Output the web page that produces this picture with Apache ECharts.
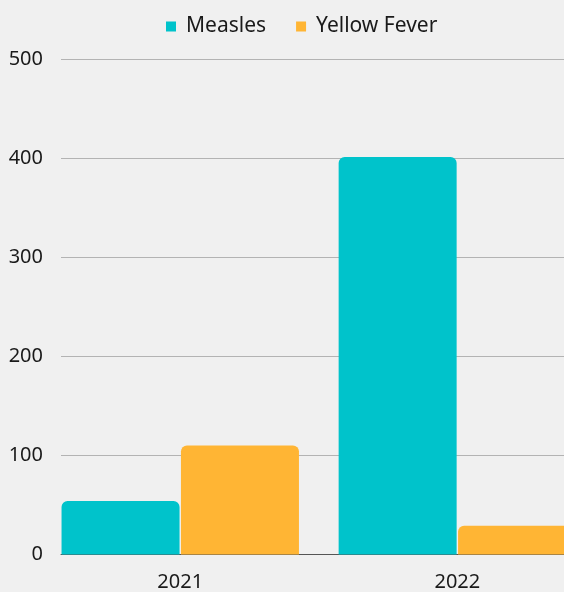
<!DOCTYPE html>
<html>
<head>
<meta charset="utf-8">
<script src="https://cdn.jsdelivr.net/npm/echarts@6/dist/echarts.min.js"></script>
<style>
  html, body { margin: 0; padding: 0; background: #f0f0f0; }
  #chart { width: 564px; height: 592px; }
</style>
</head>
<body>
<div id="chart"></div>
<script>
// Reported cases by year
const years = ['2021', '2022'];
const measles = [54, 401];
const yellowFever = [110, 29];
const yTicks = [0, 100, 200, 300, 400, 500];

const FONT = '"Noto Sans", sans-serif';
const chart = echarts.init(document.getElementById('chart'));

chart.setOption({
  backgroundColor: '#f0f0f0',
  animation: false,
  textStyle: { fontFamily: FONT },
  legend: {
    top: 11,
    left: 161,
    itemWidth: 10,
    itemHeight: 10,
    itemGap: 30,
    icon: 'rect',
    textStyle: { fontSize: 21, color: '#1a1a1a', fontFamily: FONT, padding: [0, 0, 0, 5] },
    data: ['Measles', 'Yellow Fever']
  },
  grid: [
    // frame for value axis, gridlines and baseline
    { left: 61, right: 0, top: 59, bottom: 37.5, outerBoundsMode: 'none' },
    // frame for the bars and year labels; runs past the right edge
    { left: 41.7, width: 554.2, top: 59, bottom: 37.5, outerBoundsMode: 'none' }
  ],
  xAxis: [
    {
      gridIndex: 0, type: 'category', data: years,
      axisLine: { show: true, lineStyle: { color: '#555', width: 1 } },
      axisTick: { show: false }, axisLabel: { show: false }
    },
    {
      gridIndex: 1, type: 'category', data: years,
      axisLine: { show: false }, axisTick: { show: false },
      axisLabel: { fontSize: 20, color: '#1a1a1a', margin: 18, fontFamily: FONT }
    }
  ],
  yAxis: [
    {
      gridIndex: 0, type: 'value',
      min: yTicks[0], max: yTicks[yTicks.length - 1], interval: 100,
      axisLine: { show: false }, axisTick: { show: false },
      axisLabel: { fontSize: 20, color: '#1a1a1a', margin: 18, fontFamily: FONT },
      splitLine: { lineStyle: { color: '#b3b3b3', width: 1 } }
    },
    {
      gridIndex: 1, type: 'value',
      min: yTicks[0], max: yTicks[yTicks.length - 1], interval: 100,
      show: false, splitLine: { show: false }
    }
  ],
  series: [
    {
      name: 'Measles', type: 'bar', xAxisIndex: 1, yAxisIndex: 1,
      data: measles, barWidth: 118, barGap: '1.2%',
      itemStyle: { color: '#00c3cb', borderRadius: [6, 6, 0, 0] }
    },
    {
      name: 'Yellow Fever', type: 'bar', xAxisIndex: 1, yAxisIndex: 1,
      data: yellowFever, barWidth: 118, barGap: '1.2%',
      itemStyle: { color: '#ffb534', borderRadius: [6, 6, 0, 0] }
    }
  ]
});
</script>
</body>
</html>
